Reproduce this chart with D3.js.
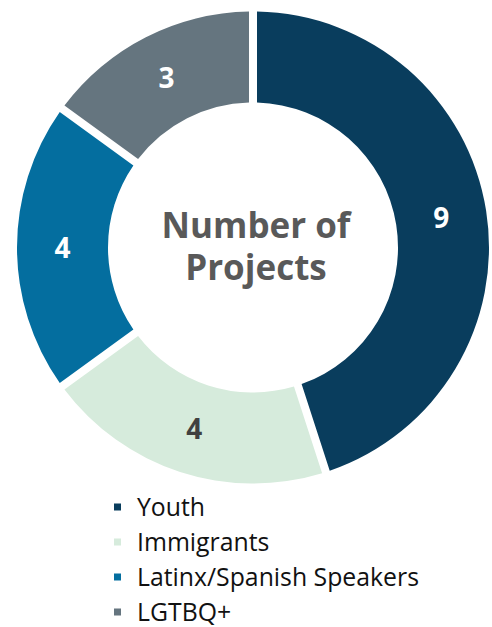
<!DOCTYPE html>
<html>
<head>
<meta charset="utf-8">
<script src="https://cdn.jsdelivr.net/npm/d3@7"></script>
<style>
  body { margin: 0; background: #fff; }
  svg { display: block; }
</style>
</head>
<body>
<script>
// chart size
var w = 492;
var h = 627;

// data
var categories = ["Youth", "Immigrants", "Latinx/Spanish Speakers", "LGTBQ+"];
var values = [9, 4, 4, 3];
var colors = ["#093D5D", "#D6EBDC", "#046E9F", "#65757F"];
var labelColors = ["#ffffff", "#404040", "#ffffff", "#ffffff"];
var centerLines = ["Number of", "Projects"];

var cx = 253, cy = 247.5;
var outerR = 236, innerR = 145;
var gap = 8;

var svg = d3.select("body")
            .append("svg")
            .attr("width", w)
            .attr("height", h);

var data = categories.map(function(c, i) {
  return {name: c, value: values[i], color: colors[i], labelColor: labelColors[i]};
});

var pie = d3.pie()
            .sort(null)
            .value(function(d) { return d.value; });

var arc = d3.arc()
            .innerRadius(innerR)
            .outerRadius(outerR)
            .padRadius(outerR)
            .padAngle(gap / outerR);

var g = svg.append("g")
           .attr("transform", "translate(" + cx + "," + cy + ")");

var slices = g.selectAll("g.slice")
              .data(pie(data))
              .enter()
              .append("g")
              .attr("class", "slice");

slices.append("path")
      .attr("d", arc)
      .attr("fill", function(d) { return d.data.color; });

/*value labels sit at the middle of each ring piece*/
slices.append("text")
      .attr("transform", function(d) { return "translate(" + arc.centroid(d) + ")"; })
      .attr("dy", "0.36em")
      .attr("text-anchor", "middle")
      .attr("font-family", "'Open Sans', sans-serif")
      .attr("font-weight", "bold")
      .attr("font-size", "28px")
      .attr("fill", function(d) { return d.data.labelColor; })
      .text(function(d) { return d.data.value; });

// centre title
g.selectAll("text.center")
 .data(centerLines)
 .enter()
 .append("text")
 .attr("class", "center")
 .attr("x", 3)
 .attr("y", function(d, i) { return -9.5 + i * 42; })
 .attr("text-anchor", "middle")
 .attr("font-family", "'Open Sans', sans-serif")
 .attr("font-weight", "bold")
 .attr("font-size", "35px")
 .attr("fill", "#595959")
 .text(function(d) { return d; });

// legend
var legendY = d3.scaleBand()
                .domain(categories)
                .range([490, 630]);

var legend = svg.selectAll("g.legend")
                .data(data)
                .enter()
                .append("g")
                .attr("class", "legend")
                .attr("transform", function(d) {
                  return "translate(114," + (legendY(d.name) + legendY.bandwidth() / 2) + ")";
                });

legend.append("rect")
      .attr("x", 0)
      .attr("y", -4)
      .attr("width", 7)
      .attr("height", 7)
      .attr("fill", function(d) { return d.color; });

legend.append("text")
      .attr("x", 23)
      .attr("y", 0)
      .attr("dy", "0.35em")
      .attr("font-family", "'Open Sans', sans-serif")
      .attr("font-size", "24.8px")
      .attr("fill", "#111")
      .text(function(d) { return d.name; });
</script>
</body>
</html>
